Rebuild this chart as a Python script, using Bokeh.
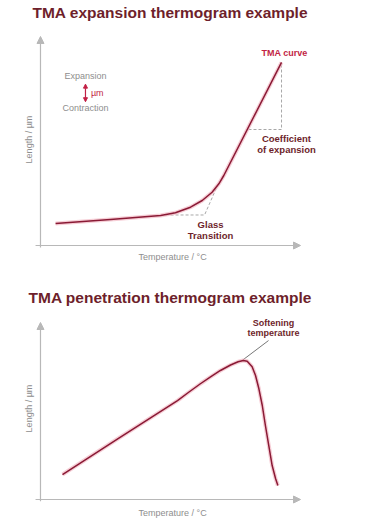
from bokeh.plotting import figure
from bokeh.models import Range1d, Arrow, NormalHead
from bokeh.layouts import column
from bokeh.core.properties import value
from bokeh.embed import file_html
from bokeh.resources import INLINE
import math

# ---------------- data (schematic units: temperature 0-100, length 0-100) ----
exp_temp = [5.8, 26.9, 46.2, 51.9, 57.7, 62.2, 66.0, 68.6, 70.5, 92.7]
exp_len = [10.5, 12.4, 14.35, 15.65, 18.33, 21.53, 25.5, 29.52, 33.49, 87.6]

tg_base_temp = [48.1, 63.1, 68.0]
tg_base_len = [14.6, 14.6, 28.5]

coef_temp = [80.0, 92.7, 92.7]
coef_len = [55.5, 55.5, 87.6]

pen_temp = [8.46, 30.0, 52.7, 57.0, 61.5, 65.4, 69.2, 73.1, 76.0, 78.0, 79.5, 81.4,
            82.7, 84.0, 85.3, 86.5, 87.8, 89.1, 90.4, 91.3]
pen_len = [14.1, 34.6, 55.9, 60.6, 65.4, 69.3, 72.9, 76.0, 77.8, 78.5, 78.1, 75.0,
           70.06, 62.54, 53.11, 41.81, 30.51, 19.21, 11.86, 7.91]

soft_temp = [77.6, 87.7]
soft_len = [78.6, 89.8]

TITLE_COL = "#6e1f2b"
CURVE_COL = "#8a1a35"
HALO_COL = "#f2b9c4"
NOTE_COL = "#6e1f2b"
RED_COL = "#c21f45"
GRAY_TXT = "#8e8e8e"
AXIS_COL = "#b8b8b8"
DASH_COL = "#a8a8a8"
FONT = value("Liberation Sans")


def base_fig(h, xr, yr):
    p = figure(width=381, height=h, output_backend="svg", toolbar_location=None,
               x_range=Range1d(*xr), y_range=Range1d(*yr), min_border=0)
    p.axis.visible = False
    p.grid.visible = False
    p.outline_line_color = None
    p.background_fill_color = "white"
    return p


def txt(p, x, y, s, size, color, bold=False, align="center", angle=0.0):
    p.text(x=[x], y=[y], text=[s], text_font=FONT, text_font_size=f"{size}px",
           text_color=color, text_font_style="bold" if bold else "normal",
           text_align=align, text_baseline="middle", angle=angle)


def axes(p, ybot):
    head = dict(size=7, fill_color=AXIS_COL, line_color=AXIS_COL)
    p.add_layout(Arrow(x_start=0, y_start=ybot, x_end=0, y_end=100,
                       line_color=AXIS_COL, line_width=1.2, end=NormalHead(**head)))
    p.add_layout(Arrow(x_start=-1.9, y_start=0, x_end=100, y_end=0,
                       line_color=AXIS_COL, line_width=1.2, end=NormalHead(**head)))


# ---------------- top: expansion ----------------
p1 = base_fig(270, (-15.38, 131.15), (-11.96, 117.22))
axes(p1, -1.0)
p1.line(tg_base_temp, tg_base_len, line_color=DASH_COL, line_dash="3 2", line_width=1)
p1.line(coef_temp, coef_len, line_color=DASH_COL, line_dash="3 2", line_width=1)
p1.line(exp_temp, exp_len, line_color=HALO_COL, line_width=4, line_alpha=0.7,
        line_join="round")
p1.line(exp_temp, exp_len, line_color=CURVE_COL, line_width=1.5, line_join="round")

txt(p1, -3.08, 111.5, "TMA expansion thermogram example", 15.5, TITLE_COL, bold=True, align="left")
txt(p1, 93.85, 92.34, "TMA curve", 9, RED_COL, bold=True)
txt(p1, 94.6, 51.2, "Coefficient", 9.5, NOTE_COL, bold=True)
txt(p1, 94.6, 45.9, "of expansion", 9.5, NOTE_COL, bold=True)
txt(p1, 65.4, 10.05, "Glass", 9.5, NOTE_COL, bold=True)
txt(p1, 65.4, 4.78, "Transition", 9.5, NOTE_COL, bold=True)
txt(p1, 17.3, 80.86, "Expansion", 9, GRAY_TXT)
txt(p1, 19.4, 73.2, "µm", 9, RED_COL, align="left")
txt(p1, 17.3, 65.55, "Contraction", 9, GRAY_TXT)
dh = dict(size=4, fill_color=RED_COL, line_color=RED_COL)
p1.add_layout(Arrow(x_start=17.3, y_start=73.0, x_end=17.3, y_end=77.2,
                    line_color=RED_COL, line_width=1.2, end=NormalHead(**dh)))
p1.add_layout(Arrow(x_start=17.3, y_start=73.0, x_end=17.3, y_end=68.8,
                    line_color=RED_COL, line_width=1.2, end=NormalHead(**dh)))
txt(p1, -4.6, 50.7, "Length / µm", 9, GRAY_TXT, angle=math.pi / 2)
txt(p1, 50.8, -5.74, "Temperature / °C", 9, GRAY_TXT)

# ---------------- bottom: penetration ----------------
p2 = base_fig(254, (-15.38, 131.15), (-14.12, 129.38))
axes(p2, -1.0)
p2.line(soft_temp, soft_len, line_color="#777777", line_width=1)
p2.line(pen_temp, pen_len, line_color=HALO_COL, line_width=4, line_alpha=0.7,
        line_join="round")
p2.line(pen_temp, pen_len, line_color=CURVE_COL, line_width=1.5, line_join="round")

txt(p2, -4.6, 114.1, "TMA penetration thermogram example", 15.5, TITLE_COL, bold=True, align="left")
txt(p2, 89.6, 100.0, "Softening", 9, NOTE_COL, bold=True)
txt(p2, 89.6, 93.8, "temperature", 9, NOTE_COL, bold=True)
txt(p2, -4.6, 51.4, "Length / µm", 9, GRAY_TXT, angle=math.pi / 2)
txt(p2, 50.8, -7.9, "Temperature / °C", 9, GRAY_TXT)

layout = column(p1, p2, spacing=0)
open("out.html", "w").write(file_html(layout, INLINE))
